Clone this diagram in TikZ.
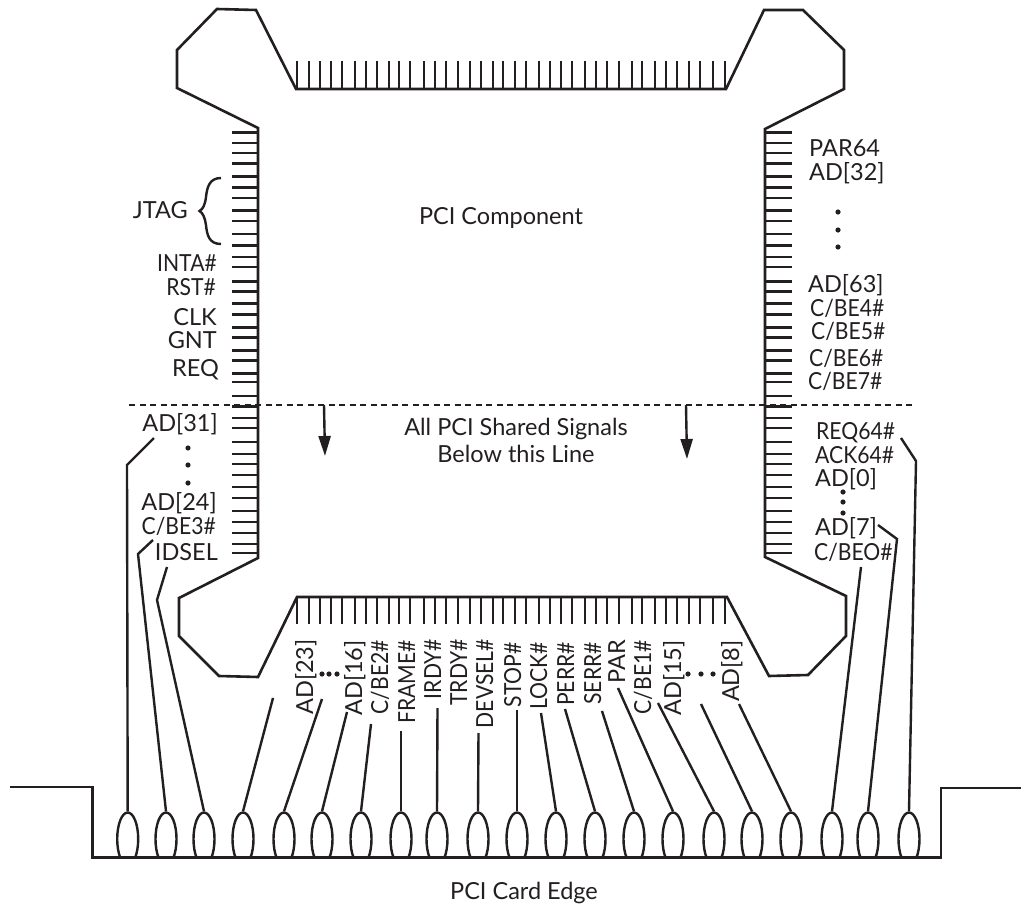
\documentclass[tikz,border=0pt]{standalone}
\usepackage{fontspec}
\setmainfont{Lato}
\usetikzlibrary{arrows.meta,positioning,shapes.geometric}
\definecolor{inkblack}{HTML}{231F20}
\newcommand{\hlabel}[1]{\scalebox{.9}[1]{#1}}

\begin{document}
\begin{tikzpicture}[
    x=1pt, y=-1pt,
    body/.style={draw=inkblack, line width=2.6pt, line join=miter},
    pintick/.style={draw=inkblack, line width=2.8pt},
    contact/.style={draw=inkblack, ellipse, line width=2.4pt, inner sep=0pt, minimum width=21pt, minimum height=53pt},
    wire/.style={draw=inkblack, line width=2.4pt},
    edge/.style={draw=inkblack, line width=2.6pt},
    arrow/.style={draw=inkblack, line width=2.4pt, -{Triangle[length=20pt, width=12pt]}},
    lbl/.style={text=inkblack, font=\fontsize{23.5}{26}\selectfont, inner sep=0pt},
    lleft/.style={lbl, anchor=base east},
    lright/.style={lbl, anchor=base west},
    lmid/.style={lbl, anchor=base},
    lvert/.style={lbl, anchor=base east, rotate=90}
]
\useasboundingbox (0,0) rectangle (1021,907);

% component outline
\draw[body] (217,9) -- (256,10) -- (296,89) -- (726,89) -- (764,10) -- (803,10) -- (844,50) -- (844,89)
    -- (765,129) -- (765,557) -- (846,596) -- (846,636) -- (808,675) -- (769,676) -- (727,597)
    -- (297,597) -- (258,677) -- (219,676) -- (179,636) -- (179,598) -- (258,558) -- (258,128)
    -- (177,88) -- (177,50) -- cycle;

% pins
\foreach \y in {132.7,143,153,163.7,176.3,187.7,198,210.7,221,234,245.7,257,267,281.3,291.7,303.3,314.3,327.3,337.3,350.3,360.7,373.3,382,396,406.5,418,428,442,454,464,475,487,498,511,522,533,544,553} {
    \draw[pintick] (232,\y) -- (258,\y);
    \draw[pintick] (765,\y) -- (792,\y);
}
\foreach \x in {297,309,320,331,342,355,366,377,389,399,410,424,435,446,458,470,481,493,503,515,526,539,550,561,572,585,596,607,619,632,642,655,666,677,689,700,713,725} {
    \draw[pintick] (\x,61) -- (\x,89);
    \draw[pintick] (\x,597) -- (\x,624);
}

% shared signal line
\coordinate (lineL) at (129,405);
\coordinate (lineR) at (913,405);
\draw[draw=inkblack, line width=2.6pt, dash pattern=on 6pt off 4.5pt] (lineL) -- (lineR);
\coordinate (arrL) at (324,405);
\coordinate (arrLtip) at (325,456);
\coordinate (arrR) at (686,405);
\coordinate (arrRtip) at (687,459);
\draw[arrow] (arrL) -- (arrLtip);
\draw[arrow] (arrR) -- (arrRtip);

% card edge
\begin{scope}
\clip (0,0) rectangle (1021,857);
\foreach \x [count=\i] in {127.7,166,204,243,284,322,361,401,437,478,517,556,595,634,673,714,752,791,832,868,909}
    \node[contact] (c\i) at (\x,839) {};
\end{scope}
\coordinate (edgeA) at (10,787);
\coordinate (edgeB) at (92.5,787);
\coordinate (edgeC) at (92.5,857.5);
\coordinate (edgeD) at (941,857.5);
\coordinate (edgeE) at (941,788);
\coordinate (edgeF) at (1021,788);
\draw[edge] (edgeA) -- (edgeB) -- (edgeC) -- (edgeD) -- (edgeE) -- (edgeF);

% wires
\foreach \i/\x/\y in {4/273/698,5/322/699,6/347/712,7/371/724,8/401/731,9/437.5/708,10/478.5/733,11/517/710,12/541/713,13/565/709,14/602/711,15/618/688,16/658/703,17/701/704,18/739/704} {
    \coordinate (w\i) at (\x,\y);
    \draw[wire] (w\i) -- (c\i.north);
}
\coordinate (w1) at (154,438);
\coordinate (b1) at (127,465);
\draw[wire] (w1) -- (b1) -- (c1.north);
\coordinate (w2) at (153,540);
\coordinate (b2) at (138,554);
\draw[wire] (w2) -- (b2) -- (c2.north);
\coordinate (w3) at (167,567);
\coordinate (b3) at (157,600);
\draw[wire] (w3) -- (b3) -- (c3.north);
\coordinate (w19) at (861,567);
\draw[wire] (w19) -- (c19.north);
\coordinate (w20) at (878,525);
\coordinate (b20) at (897,539);
\draw[wire] (w20) -- (b20) -- (c20.north);
\coordinate (w21) at (901,438);
\coordinate (b21) at (916,461);
\draw[wire] (w21) -- (b21) -- (c21.north);

% left labels
\node[lleft] (jtag) at (188,218) {JTAG};
\draw[draw=inkblack, line width=2.4pt] (221,178) .. controls (209,178) and (207,188) .. (206,197)
    .. controls (205,205) and (203,209) .. (199.5,211) .. controls (203,213) and (205,218) .. (206,225)
    .. controls (207,235) and (209,244) .. (221,244);
\node[lleft] (inta) at (217,271) {\hlabel{INTA\#}};
\node[lleft] (rst) at (216,295) {\hlabel{RST\#}};
\node[lleft] (clk) at (217,325) {CLK};
\node[lleft] (gnt) at (217,348) {GNT};
\node[lleft] (req) at (219,376) {REQ};
\node[lleft] (ad31) at (218,431) {AD[31]};
\node[lleft] (ad24) at (217,510) {AD[24]};
\node[lleft] (cbe3) at (216,534) {\hlabel{C/BE3\#}};
\node[lleft] (idsel) at (218,560) {IDSEL};

% right labels
\node[lright] (par64) at (809,156) {PAR64};
\node[lright] (ad32) at (809,180) {AD[32]};
\node[lright] (ad63) at (808,292) {AD[63]};
\node[lright] (cbe4) at (810,316) {\hlabel{C/BE4\#}};
\node[lright] (cbe5) at (811,339) {\hlabel{C/BE5\#}};
\node[lright] (cbe6) at (809,366) {\hlabel{C/BE6\#}};
\node[lright] (cbe7) at (808,389) {\hlabel{C/BE7\#}};
\node[lright] (req64) at (816,439) {\hlabel{REQ64\#}};
\node[lright] (ack64) at (815,463) {\hlabel{ACK64\#}};
\node[lright] (ad0) at (815,486) {AD[0]};
\node[lright] (ad7) at (815,535) {AD[7]};
\node[lright] (cbe0) at (814,560) {\hlabel{C/BEO\#}};

% middle labels
\node[lmid] (comp) at (501,224) {PCI Component};
\node[lmid] (shared) at (516,435) {All PCI Shared Signals};
\node[lmid] (below) at (516,462) {Below this Line};
\node[lmid] (card) at (524,899) {PCI Card Edge};

% bottom labels
\node[lvert] (ad23) at (313,639) {AD[23]};
\node[lvert] (ad16) at (362,640) {AD[16]};
\node[lvert] (cbe2) at (388,640) {\hlabel{C/BE2\#}};
\node[lvert] (frame) at (415,640) {\hlabel{FRAME\#}};
\node[lvert] (irdy) at (441,639) {\hlabel{IRDY\#}};
\node[lvert] (trdy) at (467,639) {\hlabel{TRDY\#}};
\node[lvert] (devsel) at (493,639) {\hlabel{DEVSEL\#}};
\node[lvert] (stop) at (521,642) {\hlabel{STOP\#}};
\node[lvert] (lock) at (547,642) {\hlabel{LOCK\#}};
\node[lvert] (perr) at (574,642) {\hlabel{PERR\#}};
\node[lvert] (serr) at (601,642) {\hlabel{SERR\#}};
\node[lvert] (par) at (625,640) {PAR};
\node[lvert] (cbe1) at (651,640) {\hlabel{C/BE1\#}};
\node[lvert] (ad15) at (681,640) {AD[15]};
\node[lvert] (ad8) at (739,640) {AD[8]};

% ellipsis dots
\foreach \x/\y in {188/448,188/465,188/483,838/212,838/230,838/247,843/492,843/502,843/513,322/674,329/674,337/674,688/674,701/674,713/674}
    \fill[inkblack] (\x,\y) circle (2.6);
\end{tikzpicture}
\end{document}
